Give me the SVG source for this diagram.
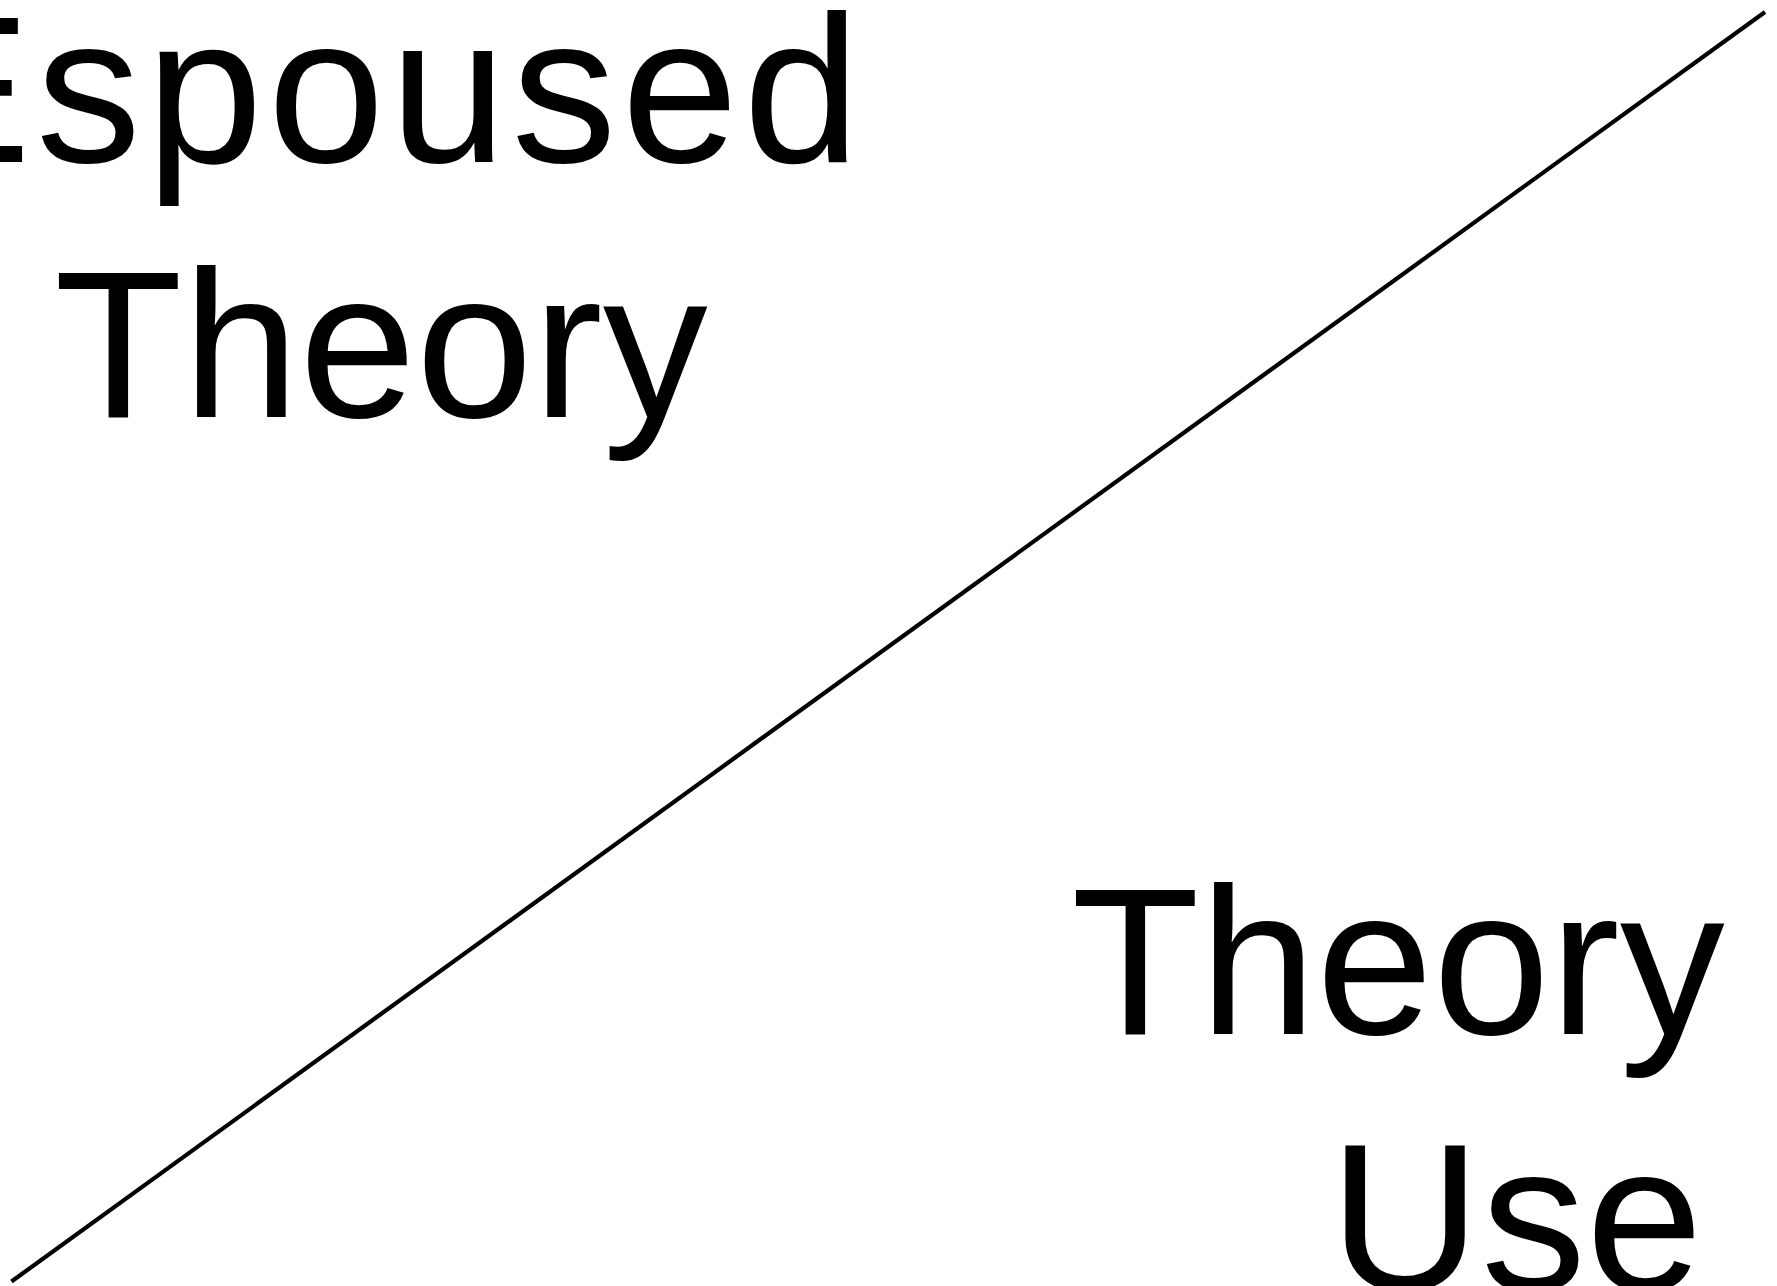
<svg xmlns="http://www.w3.org/2000/svg" width="1777" height="1286" viewBox="0 0 1777 1286">
<style>
.lbl{font-family:"Liberation Sans",Arial,Helvetica,sans-serif;font-size:210px;fill:#000;text-anchor:middle}
.conn{stroke:#000;stroke-width:4.2;fill:none}
</style>
<rect width="1777" height="1286" fill="#fff"/>
<g id="connectors">
<line class="conn" x1="11.5" y1="1281.5" x2="1765" y2="12"/>
</g>
<g id="espoused-theory">
<text class="lbl" x="378" y="162" letter-spacing="5">Espoused</text>
<text class="lbl" x="381" y="417">Theory</text>
</g>
<g id="theory-use">
<text class="lbl" x="1398" y="1034">Theory</text>
<text class="lbl" x="1516" y="1290">Use</text>
</g>
</svg>
